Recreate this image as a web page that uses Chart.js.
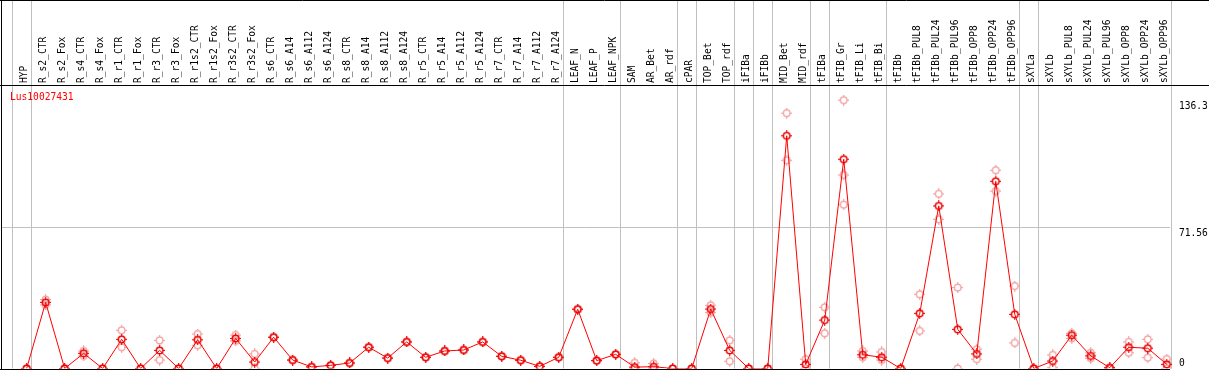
<!DOCTYPE html>
<html>
<head>
<title>Lus10027431</title>
<script src="https://cdn.jsdelivr.net/npm/chart.js"></script>
<style>
  body { margin: 0; background: #fff; }
  canvas { display: block; }
</style>
</head>
<body>
<canvas id="exprChart" width="1209" height="370"></canvas>
<script>
const geneName = 'Lus10027431';

const samples = ['HYP', 'R_s2_CTR', 'R_s2_Fox', 'R_s4_CTR', 'R_s4_Fox', 'R_r1_CTR', 'R_r1_Fox',
  'R_r3_CTR', 'R_r3_Fox', 'R_r1s2_CTR', 'R_r1s2_Fox', 'R_r3s2_CTR', 'R_r3s2_Fox', 'R_s6_CTR',
  'R_s6_A14', 'R_s6_A112', 'R_s6_A124', 'R_s8_CTR', 'R_s8_A14', 'R_s8_A112', 'R_s8_A124',
  'R_r5_CTR', 'R_r5_A14', 'R_r5_A112', 'R_r5_A124', 'R_r7_CTR', 'R_r7_A14', 'R_r7_A112', 'R_r7_A124',
  'LEAF_N', 'LEAF_P', 'LEAF_NPK', 'SAM', 'AR_Bet', 'AR_rdf', 'cPAR', 'TOP_Bet', 'TOP_rdf',
  'iFIBa', 'iFIBb', 'MID_Bet', 'MID_rdf', 'tFIBa', 'tFIB_Gr', 'tFIB_Li', 'tFIB_Bi', 'tFIBb',
  'tFIBb_PUL8', 'tFIBb_PUL24', 'tFIBb_PUL96', 'tFIBb_OPP8', 'tFIBb_OPP24', 'tFIBb_OPP96',
  'sXYLa', 'sXYLb', 'sXYLb_PUL8', 'sXYLb_PUL24', 'sXYLb_PUL96', 'sXYLb_OPP8', 'sXYLb_OPP24', 'sXYLb_OPP96'];

// mean expression per sample
const meanExpr = [0, 33.6, 0, 7.7, 0, 14.8, 0, 9.2, 0, 14.6, 0, 15.3, 3.3, 15.9,
  4.3, 0.8, 1.6, 2.8, 10.8, 5.3, 13.5, 5.7, 8.9, 9.4, 13.5, 6.2, 4.2, 1.1, 5.7,
  30.1, 4.0, 7.2, 0.7, 0.9, 0, 0, 30.2, 9.2, 0, 0, 118.2, 2.1, 24.6, 106.3, 7.0, 5.7, 0,
  28.0, 82.6, 19.9, 7.4, 95.1, 27.5, 0, 3.8, 16.9, 6.4, 0.4, 10.8, 10.3, 2.1];

// individual replicates
const repHigh = [0, 35.0, 0, 8.9, 0, 19.4, 0, 14.3, 0, 17.5, 0, 17.0, 7.4, 15.9,
  4.3, 0.8, 1.6, 2.8, 10.8, 5.3, 13.5, 5.7, 8.9, 9.4, 13.5, 6.2, 4.2, 1.1, 5.7,
  30.1, 4.0, 7.2, 2.9, 2.6, 0, 0, 32.1, 14.3, 0, 0, 129.7, 4.7, 31.1, 136.3, 8.9, 8.4, 0,
  37.7, 88.7, 41.1, 9.8, 100.7, 41.9, 0, 6.9, 17.9, 8.0, 0.4, 13.5, 14.8, 4.8];
const repLow = [0, 32.3, 0, 6.4, 0, 10.8, 0, 4.3, 0, 11.8, 0, 14.0, 0, 15.9,
  4.3, 0.8, 1.6, 2.8, 10.8, 5.3, 13.5, 5.7, 8.9, 9.4, 13.5, 6.2, 4.2, 1.1, 5.7,
  30.1, 4.0, 7.2, 0, 0, 0, 0, 28.4, 3.7, 0, 0, 105.8, 0, 17.9, 83.2, 5.7, 4.3, 0,
  19.1, 75.8, 0, 4.7, 90.1, 13.0, 0, 0.4, 15.3, 5.2, 0, 8.0, 5.5, 0];
const repExtra = [null, null, null, null, null, null, null, null, null, null, null, null, null, null,
  null, null, null, null, null, null, null, null, null, null, null, null, null, null, null,
  null, null, null, null, null, null, null, null, null, null, null, null, null, null, 98.3, null, null, null,
  null, null, null, null, null, null, null, null, null, null, null, null, null, null];

const yTicks = [0, 71.56, 136.3];
// separator lines fall just after these sample indexes
const groupBreaks = [-1, 0, 28, 31, 34, 35, 37, 38, 39, 41, 42, 45, 52, 53, 60];

const MONO = '"DejaVu Sans Mono", "Liberation Mono", monospace';

function ringMarker(color, lw) {
  const c = document.createElement('canvas');
  c.width = 11; c.height = 11;
  const g = c.getContext('2d');
  g.strokeStyle = color;
  g.lineWidth = lw;
  g.beginPath();
  g.arc(5.5, 5.5, 3.3, 0, Math.PI * 2);
  g.stroke();
  g.lineWidth = 1;
  g.beginPath();
  g.moveTo(5.5, 0); g.lineTo(5.5, 2);
  g.moveTo(5.5, 9); g.lineTo(5.5, 11);
  g.moveTo(0, 5.5); g.lineTo(2, 5.5);
  g.moveTo(9, 5.5); g.lineTo(11, 5.5);
  g.stroke();
  return c;
}

function toPoints(arr) {
  return arr.map((v, i) => ({x: i, y: v})).filter(p => p.y !== null);
}

const framePlugin = {
  id: 'frame',
  beforeDatasetsDraw(chart) {
    const ctx = chart.ctx;
    const xs = chart.scales.x;
    const area = chart.chartArea;
    ctx.save();
    ctx.strokeStyle = '#c0c0c0';
    ctx.lineWidth = 1;
    groupBreaks.forEach(i => {
      const px = Math.round(xs.getPixelForValue(i + 0.21)) + 0.5;
      ctx.beginPath();
      ctx.moveTo(px, 0);
      ctx.lineTo(px, area.bottom);
      ctx.stroke();
    });
    ctx.restore();
  },
  afterDraw(chart) {
    const ctx = chart.ctx;
    const area = chart.chartArea;
    const ys = chart.scales.y;
    ctx.save();
    ctx.strokeStyle = '#000';
    ctx.lineWidth = 1;
    ctx.beginPath();
    ctx.moveTo(0, 0.5); ctx.lineTo(chart.width, 0.5);
    ctx.moveTo(0, area.top + 0.5); ctx.lineTo(chart.width, area.top + 0.5);
    ctx.moveTo(1.5, 0); ctx.lineTo(1.5, area.bottom + 1);
    ctx.moveTo(0, Math.round(area.bottom) + 0.5); ctx.lineTo(area.right, Math.round(area.bottom) + 0.5);
    ctx.stroke();

    ctx.font = '9.6px ' + MONO;
    ctx.fillStyle = '#000';
    ctx.textAlign = 'left';
    ys.ticks.forEach(t => {
      const py = ys.getPixelForValue(t.value);
      if (t.value === 0) {
        ctx.textBaseline = 'alphabetic';
        ctx.fillText(t.label, area.right + 9, py - 2.5);
      } else {
        ctx.textBaseline = 'top';
        ctx.fillText(t.label, area.right + 9, py + 1.5);
      }
    });

    ctx.fillStyle = '#ff0000';
    ctx.textBaseline = 'middle';
    ctx.fillText(geneName, 10, 97);
    ctx.restore();
  }
};

const meanMarker = ringMarker('#ee0000', 1.5);
const repMarker = ringMarker('#f09a9a', 1.2);

new Chart(document.getElementById('exprChart').getContext('2d'), {
  type: 'line',
  data: {
    datasets: [
      {
        label: 'mean',
        data: toPoints(meanExpr),
        borderColor: '#ff0000',
        borderWidth: 1,
        tension: 0,
        pointStyle: meanMarker,
        clip: {left: 6, top: 6, right: 6, bottom: 0}
      },
      {
        label: 'replicates',
        data: toPoints(repHigh).concat(toPoints(repLow), toPoints(repExtra)),
        showLine: false,
        pointStyle: repMarker,
        clip: {left: 6, top: 6, right: 6, bottom: 0}
      }
    ]
  },
  options: {
    responsive: false,
    animation: false,
    layout: { autoPadding: false, padding: { left: 1, top: 0, right: 0, bottom: 1.5 } },
    plugins: { legend: { display: false }, tooltip: { enabled: false } },
    scales: {
      x: {
        type: 'linear',
        position: 'top',
        min: -1.35,
        max: 60.17,
        afterBuildTicks: scale => { scale.ticks = samples.map((s, i) => ({value: i})); },
        afterFit: scale => {
          scale.height = 85;
          scale.paddingLeft = 0;
          scale.paddingRight = 0;
        },
        grid: { display: false, drawTicks: false },
        border: { display: false },
        ticks: {
          autoSkip: false,
          minRotation: 90,
          maxRotation: 90,
          padding: 2,
          labelOffset: 9,
          color: '#000',
          font: { family: MONO, size: 9.6 },
          callback: v => samples[v]
        }
      },
      y: {
        type: 'linear',
        position: 'right',
        min: 0,
        max: 144,
        afterBuildTicks: scale => { scale.ticks = yTicks.map(v => ({value: v})); },
        afterFit: scale => { scale.width = 39; },
        grid: {
          drawTicks: false,
          color: c => (c.tick && c.tick.value === 71.56) ? '#c0c0c0' : 'rgba(0,0,0,0)'
        },
        border: { display: false },
        ticks: { display: false, callback: v => String(v) }
      }
    }
  },
  plugins: [framePlugin]
});
</script>
</body>
</html>
